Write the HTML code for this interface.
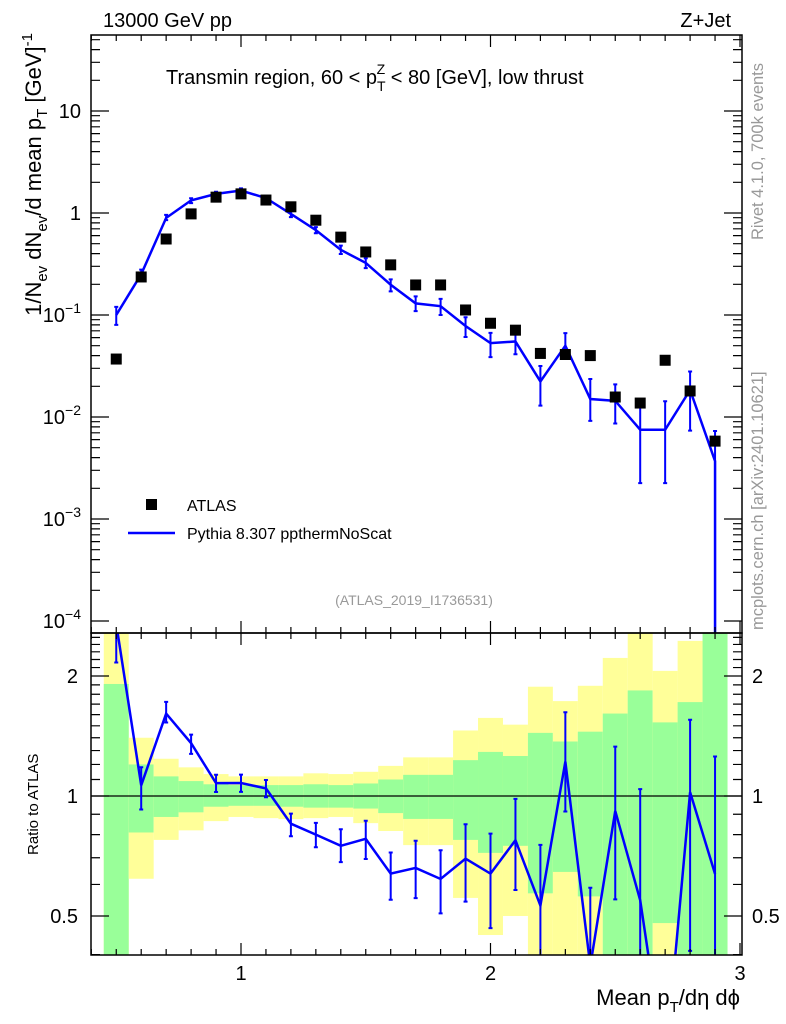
<!DOCTYPE html>
<html><head><meta charset="utf-8">
<style>
html,body{margin:0;background:#fff;width:786px;height:1024px;overflow:hidden;}
svg{display:block;font-family:"Liberation Sans",sans-serif;}
</style></head>
<body>
<svg id="chart" width="786" height="1024" viewBox="0 0 786 1024" xmlns="http://www.w3.org/2000/svg">
<g id="ratioBands"></g>
<g id="marks"></g>
<g id="axes"></g>
<text x="103" y="27" font-size="20">13000 GeV pp</text>
<text x="731" y="27" font-size="20" text-anchor="end">Z+Jet</text>
<text x="166" y="84" font-size="20">Transmin region, 60 &lt; p<tspan font-size="14" dy="7">T</tspan><tspan font-size="14" dx="-9" dy="-17">Z</tspan><tspan dy="10"> &lt; 80 [GeV], low thrust</tspan></text>
<text x="414" y="605" font-size="14" fill="#999" text-anchor="middle">(ATLAS_2019_I1736531)</text>
<text transform="translate(763,240) rotate(-90)" font-size="16.5" fill="#999">Rivet 4.1.0,  700k events</text>
<text transform="translate(763,630) rotate(-90)" font-size="16.5" fill="#999">mcplots.cern.ch [arXiv:2401.10621]</text>
<text transform="translate(41,33) rotate(-90)" font-size="22" text-anchor="end">1/N<tspan font-size="15" dy="6">ev</tspan><tspan dy="-6"> dN</tspan><tspan font-size="15" dy="6">ev</tspan><tspan dy="-6">/d mean p</tspan><tspan font-size="15" dy="6">T</tspan><tspan dy="-6">  [GeV]</tspan><tspan font-size="15" dy="-9">-1</tspan></text>
<text transform="translate(38,855) rotate(-90)" font-size="15">Ratio to ATLAS</text>
<text x="740" y="1005" font-size="22" text-anchor="end">Mean p<tspan font-size="15" dy="7">T</tspan><tspan dy="-7">/dη dϕ</tspan></text>
<g>
<rect x="146" y="499" width="11" height="11" fill="#000"/>
<text x="187" y="511" font-size="16">ATLAS</text>
<line x1="128" y1="533" x2="175" y2="533" stroke="#00f" stroke-width="2.5"/>
<text x="187" y="539" font-size="16">Pythia 8.307 ppthermNoScat</text>
</g>
</svg>
<script>
const xCenters=[0.5,0.6,0.7,0.8,0.9,1.0,1.1,1.2,1.3,1.4,1.5,1.6,1.7,1.8,1.9,2.0,2.1,2.2,2.3,2.4,2.5,2.6,2.7,2.8,2.9];
const atlasValues=[0.037,0.236,0.556,0.98,1.43,1.54,1.34,1.15,0.85,0.58,0.415,0.31,0.197,0.197,0.112,0.083,0.071,0.042,0.041,0.040,0.0157,0.0137,0.036,0.018,0.0058];
const mcValues=[0.1,0.251,0.895,1.33,1.54,1.66,1.40,0.98,0.68,0.435,0.324,0.198,0.130,0.122,0.078,0.053,0.055,0.0223,0.050,0.0150,0.0144,0.0075,0.0075,0.0184,0.0037];
const mcErrHi=[0.2,0.11,0.07,0.05,0.05,0.05,0.05,0.06,0.07,0.10,0.11,0.13,0.17,0.18,0.22,0.26,0.27,0.42,0.33,0.57,0.45,0.9,0.9,0.52,0.97];
const mcErrLo=[0.2,0.13,0.05,0.06,0.05,0.05,0.05,0.07,0.07,0.09,0.11,0.14,0.16,0.18,0.22,0.27,0.25,0.42,0.25,0.39,0.4,0.7,0.7,0.6,1.0];
const yellowHi=[3,1.40,1.24,1.18,1.135,1.12,1.12,1.12,1.14,1.135,1.15,1.19,1.25,1.25,1.46,1.57,1.51,1.88,1.73,1.89,2.22,3,2.06,2.45,3];
const greenHi=[1.91,1.20,1.12,1.09,1.07,1.065,1.065,1.065,1.07,1.065,1.075,1.10,1.13,1.13,1.23,1.29,1.26,1.44,1.37,1.45,1.61,1.84,1.53,1.72,3];
const greenLo=[0.3,0.81,0.886,0.91,0.94,0.945,0.945,0.94,0.935,0.935,0.93,0.906,0.876,0.876,0.776,0.72,0.75,0.57,0.645,0.56,0.3,0.3,0.48,0.3,0.3];
const yellowLo=[0.3,0.62,0.776,0.82,0.865,0.886,0.88,0.875,0.88,0.886,0.855,0.817,0.753,0.753,0.555,0.448,0.50,0.3,0.3,0.3,0.3,0.3,0.3,0.3,0.3];
const xTicks=[1,2,3];
const mainYTicks=[{v:10,t:"10"},{v:1,t:"1"},{v:0.1,t:"10",e:"−1"},{v:0.01,t:"10",e:"−2"},{v:0.001,t:"10",e:"−3"},{v:0.0001,t:"10",e:"−4"}];
const ratioTicks=[0.5,1,2];
const binWidth=0.1;

const NS="http://www.w3.org/2000/svg";
const L=91,R=742,T=35,MB=633,RB=955;
const X=v=>241+(v-1)*249.5;
const Y=v=>213-Math.log10(v)*102;
const RY=v=>796-Math.log2(v)*120;
function mk(tag,attrs,parent){const e=document.createElementNS(NS,tag);for(const k in attrs)e.setAttribute(k,attrs[k]);parent.appendChild(e);return e;}
const clampR=y=>Math.max(MB,Math.min(RB,y));
const bands=document.getElementById('ratioBands');
const marks=document.getElementById('marks');
const axes=document.getElementById('axes');

xCenters.forEach((c,i)=>{
  const x0=X(c-binWidth/2),w=X(c+binWidth/2)-x0;
  const y1=clampR(RY(yellowHi[i])),y2=clampR(RY(yellowLo[i]));
  const r=mk('rect',{x:x0,y:y1,width:w,height:y2-y1,fill:'#ffff99'},bands);
  
  
  const g1=clampR(RY(greenHi[i])),g2=clampR(RY(greenLo[i]));
  const g=mk('rect',{x:x0,y:g1,width:w,height:g2-g1,fill:'#99ff99'},bands);
  
  
});
const one=mk('line',{x1:L,x2:R,y1:RY(1),y2:RY(1),stroke:'#000','stroke-width':1.2},bands);



const cp=mk('clipPath',{id:'cm'},marks);mk('rect',{x:L,y:T,width:R-L,height:MB-T},cp);
const cr=mk('clipPath',{id:'cr'},marks);mk('rect',{x:L,y:MB,width:R-L,height:RB-MB},cr);
const gm=mk('g',{'clip-path':'url(#cm)'},marks);
const gr=mk('g',{'clip-path':'url(#cr)'},marks);
let pts=xCenters.map((c,i)=>X(c)+','+Y(mcValues[i])).join(' ');
pts+=' '+X(2.9)+','+(MB+5);
const ml=mk('polyline',{points:pts,fill:'none',stroke:'#00f','stroke-width':2.5},gm);


xCenters.forEach((c,i)=>{
  const v=mcValues[i],hi=v*(1+mcErrHi[i]),lo=v*(1-mcErrLo[i]);
  const yh=Y(hi),yl=lo>0?Y(lo):MB+5;
  const e=mk('path',{d:`M${X(c)},${yh}V${yl}M${X(c)-2},${yh}h4M${X(c)-2},${yl}h4`,stroke:'#00f','stroke-width':2,fill:'none'},gm);
  
  
  const m=mk('rect',{x:X(c)-5.5,y:Y(atlasValues[i])-5.5,width:11,height:11,fill:'#000'},gm);
  
  
});
const ratios=xCenters.map((c,i)=>mcValues[i]/atlasValues[i]);
const rl=mk('polyline',{points:xCenters.map((c,i)=>X(c)+','+RY(ratios[i])).join(' '),fill:'none',stroke:'#00f','stroke-width':2.5},gr);


xCenters.forEach((c,i)=>{
  const r=ratios[i],hi=r*(1+mcErrHi[i]),lo=r*(1-mcErrLo[i]);
  const yh=RY(hi),yl=lo>0?RY(lo):RB+5;
  const e=mk('path',{d:`M${X(c)},${yh}V${yl}M${X(c)-2},${yh}h4M${X(c)-2},${yl}h4`,stroke:'#00f','stroke-width':2,fill:'none'},gr);
  
  
});

const f1=mk('rect',{x:L,y:T,width:R-L,height:MB-T,fill:'none',stroke:'#000','stroke-width':1.5},axes);


const f2=mk('rect',{x:L,y:MB,width:R-L,height:RB-MB,fill:'none',stroke:'#000','stroke-width':1.5},axes);


let d='';
for(let k=4;k<=30;k++){const v=k/10,x=X(v),len=(k%10===0)?12:6;
  d+=`M${x},${T}v${len}M${x},${MB}v${-len}M${x},${MB}v${len}M${x},${RB}v${-len}`;}
for(let e=-4;e<=1;e++){for(let m=1;m<=9;m++){const v=m*Math.pow(10,e),y=Y(v);if(y<T||y>MB)continue;const len=m===1?18:9;d+=`M${L},${y}h${len}M${R},${y}h${-len}`;}}
for(let v=0.4;v<=2.6;v+=0.1){const y=RY(v);if(y<MB||y>RB)continue;const major=Math.abs(v-0.5)<1e-6||Math.abs(v-1)<1e-6||Math.abs(v-2)<1e-6;const len=major?18:9;d+=`M${L},${y}h${len}M${R},${y}h${-len}`;}
const tk=mk('path',{d:d,stroke:'#000','stroke-width':1.2,fill:'none'},axes);


xTicks.forEach(v=>{
  const t=mk('text',{x:X(v),y:980,'font-size':20,'text-anchor':'middle'},axes);t.textContent=String(v);
  
  
});
mainYTicks.forEach(o=>{
  const t=mk('text',{x:81,y:Y(o.v)+7,'font-size':20,'text-anchor':'end'},axes);
  const b=mk('tspan',{},t);b.textContent=o.t;
  if(o.e){const s=mk('tspan',{'font-size':14,dy:-9},t);s.textContent=o.e;}
  
  
});
ratioTicks.forEach(v=>{
  const t=mk('text',{x:78,y:RY(v)+7,'font-size':20,'text-anchor':'end'},axes);t.textContent=String(v);
  
  
  const t2=mk('text',{x:752,y:RY(v)+7,'font-size':20},axes);t2.textContent=String(v);
  
  
});
</script>
</body></html>
